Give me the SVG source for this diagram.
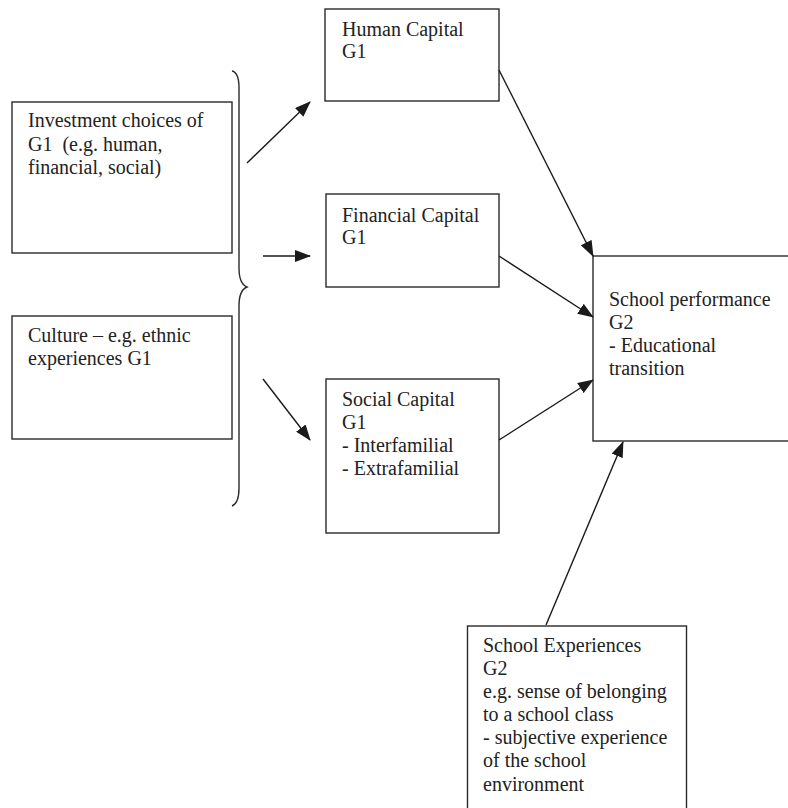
<svg xmlns="http://www.w3.org/2000/svg" width="788" height="808" viewBox="0 0 788 808">
  <style>
    .box { fill: #ffffff; stroke: #2a2a2a; stroke-width: 1.4; }
    .lbl { font-family: "Liberation Serif", "Times New Roman", serif; font-size: 20px; fill: #222222; white-space: pre; }
    .edge { fill: none; stroke: #1a1a1a; stroke-width: 1.4; marker-end: url(#head); }
    .brace { fill: none; stroke: #2a2a2a; stroke-width: 1.4; }
  </style>
  <defs>
    <marker id="head" markerUnits="userSpaceOnUse" markerWidth="16" markerHeight="12" refX="15" refY="6" orient="auto">
      <path d="M0,0 L16,6 L0,12 Z" fill="#1a1a1a"/>
    </marker>
  </defs>
  <rect width="788" height="808" fill="#ffffff"/>

  <g id="investment">
    <rect class="box" x="12" y="102" width="220" height="151"/>
    <text class="lbl" x="28" y="127">Investment choices of</text>
    <text class="lbl" x="28" y="150.5">G1  (e.g. human,</text>
    <text class="lbl" x="28" y="174">financial, social)</text>
  </g>

  <g id="culture">
    <rect class="box" x="12" y="316" width="220" height="123"/>
    <text class="lbl" x="28" y="341.5">Culture – e.g. ethnic</text>
    <text class="lbl" x="28" y="364.5">experiences G1</text>
  </g>

  <g id="brace">
    <path class="brace" d="M232,71 C237,72 239,78 239,88 L239,268 C239,280 242,285 247,287 C242,289 239,294 239,306 L239,488 C239,498 237,504 232,506"/>
  </g>

  <g id="human-capital">
    <rect class="box" x="325" y="9" width="174" height="92"/>
    <text class="lbl" x="342" y="36">Human Capital</text>
    <text class="lbl" x="342" y="57.5">G1</text>
  </g>

  <g id="financial-capital">
    <rect class="box" x="326" y="194" width="173" height="93"/>
    <text class="lbl" x="342" y="221.5">Financial Capital</text>
    <text class="lbl" x="342" y="244">G1</text>
  </g>

  <g id="social-capital">
    <rect class="box" x="326" y="379" width="173" height="154"/>
    <text class="lbl" x="342" y="405.5">Social Capital</text>
    <text class="lbl" x="342" y="428.5">G1</text>
    <text class="lbl" x="342" y="451.5">- Interfamilial</text>
    <text class="lbl" x="342" y="475">- Extrafamilial</text>
  </g>

  <g id="school-performance">
    <rect class="box" x="593" y="256" width="200" height="185"/>
    <text class="lbl" x="609" y="306">School performance</text>
    <text class="lbl" x="609" y="328.5">G2</text>
    <text class="lbl" x="609" y="351.5">- Educational</text>
    <text class="lbl" x="609" y="375">transition</text>
  </g>

  <g id="school-experiences">
    <rect class="box" x="467.5" y="626" width="219" height="190"/>
    <text class="lbl" x="483" y="651.5">School Experiences</text>
    <text class="lbl" x="483" y="674.5">G2</text>
    <text class="lbl" x="483" y="697.5">e.g. sense of belonging</text>
    <text class="lbl" x="483" y="720.5">to a school class</text>
    <text class="lbl" x="483" y="744">- subjective experience</text>
    <text class="lbl" x="483" y="767">of the school</text>
    <text class="lbl" x="483" y="790.5">environment</text>
  </g>

  <g id="connectors">
    <line class="edge" x1="247" y1="163" x2="310" y2="102"/>
    <line class="edge" x1="263" y1="256" x2="310" y2="256"/>
    <line class="edge" x1="263" y1="379" x2="310" y2="440"/>
    <line class="edge" x1="499" y1="70" x2="593" y2="256"/>
    <line class="edge" x1="499" y1="256" x2="593" y2="317"/>
    <line class="edge" x1="499" y1="440" x2="593" y2="380"/>
    <line class="edge" x1="546" y1="625" x2="623" y2="442"/>
  </g>
</svg>
